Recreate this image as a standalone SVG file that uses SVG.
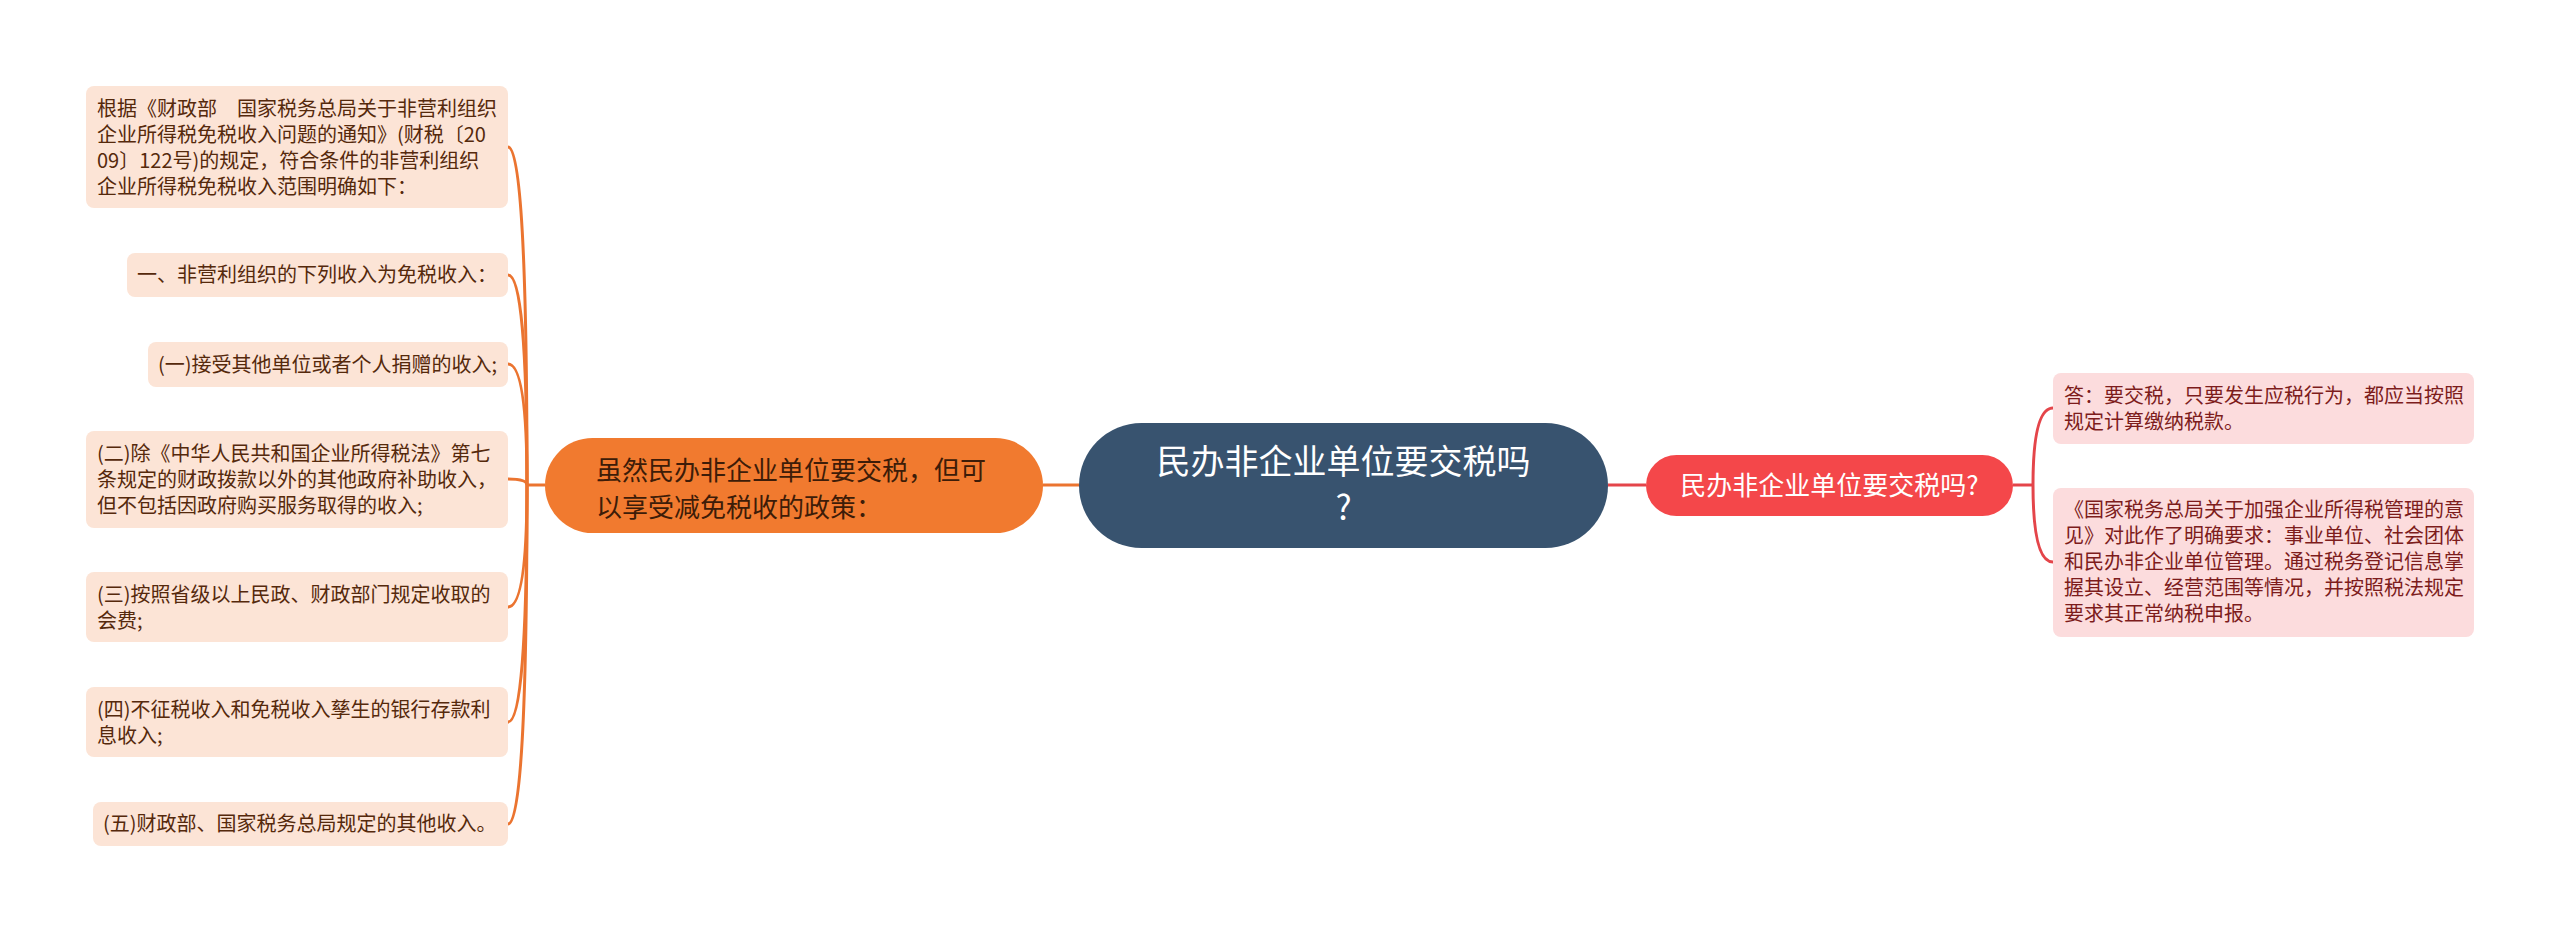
<svg xmlns="http://www.w3.org/2000/svg" width="2560" height="933" viewBox="0 0 2560 933">
<style>
text{font-family:"Noto Sans CJK SC","Noto Sans",sans-serif;}
.lb{fill:#FCE4D6;}
.lt{font-size:20px;fill:#55290C;}
.rb{fill:#FCDCDD;}
.rt{font-size:20px;fill:#7D1C1C;}
.oc{fill:none;stroke:#EB7430;stroke-width:3;}
.rc{fill:none;stroke:#E4454A;stroke-width:3;}
</style>
<rect width="2560" height="933" fill="#FFFFFF"/>
<g id="connectors">
<path class="oc" d="M1043 485 H1079"/>
<path class="oc" d="M545 485 H527"/>
<path class="oc" d="M527 485 Q527 147 508 147"/>
<path class="oc" d="M527 485 Q527 275 508 275"/>
<path class="oc" d="M527 485 Q527 364 508 364"/>
<path class="oc" d="M527 485 Q527 479 508 479"/>
<path class="oc" d="M527 485 Q527 607 508 607"/>
<path class="oc" d="M527 485 Q527 722 508 722"/>
<path class="oc" d="M527 485 Q527 824 508 824"/>
<path class="rc" d="M1608 485 H1646"/>
<path class="rc" d="M2013 485 H2033"/>
<path class="rc" d="M2033 485 Q2033 408 2053 408"/>
<path class="rc" d="M2033 485 Q2033 562 2053 562"/>
</g>
<g id="root">
<rect x="1079" y="423" width="529" height="125" rx="62.5" fill="#38536F"/>
<text x="1343.5" y="474" text-anchor="middle" font-size="34" fill="#FFFFFF">民办非企业单位要交税吗</text>
<text x="1343.5" y="520" text-anchor="middle" font-size="34" fill="#FFFFFF">?</text>
</g>
<g id="n-left">
<rect x="545" y="438" width="498" height="95" rx="47.5" fill="#F17A2F"/>
<text x="596" y="479.5" font-size="26" fill="#3D1C08">虽然民办非企业单位要交税，但可</text>
<text x="596" y="516.5" font-size="26" fill="#3D1C08">以享受减免税收的政策：</text>
</g>
<g id="n-right">
<rect x="1646" y="455" width="367" height="61" rx="30.5" fill="#F4474A"/>
<text x="1829.5" y="495" text-anchor="middle" font-size="26" fill="#FFFFFF">民办非企业单位要交税吗?</text>
</g>
<g id="l1">
<rect class="lb" x="86" y="86" width="422" height="122" rx="8"/>
<text class="lt" x="97" y="115.5">根据《财政部　国家税务总局关于非营利组织</text>
<text class="lt" x="97" y="141.5">企业所得税免税收入问题的通知》(财税〔20</text>
<text class="lt" x="97" y="167.5">09〕122号)的规定，符合条件的非营利组织</text>
<text class="lt" x="97" y="193.5">企业所得税免税收入范围明确如下：</text>
</g>
<g id="l2">
<rect class="lb" x="127" y="253" width="381" height="44" rx="8"/>
<text class="lt" x="137" y="282">一、非营利组织的下列收入为免税收入：</text>
</g>
<g id="l3">
<rect class="lb" x="148" y="342" width="360" height="45" rx="8"/>
<text class="lt" x="158" y="371.5">(一)接受其他单位或者个人捐赠的收入;</text>
</g>
<g id="l4">
<rect class="lb" x="86" y="431" width="422" height="97" rx="8"/>
<text class="lt" x="97" y="460.5">(二)除《中华人民共和国企业所得税法》第七</text>
<text class="lt" x="97" y="486.5">条规定的财政拨款以外的其他政府补助收入，</text>
<text class="lt" x="97" y="512.5">但不包括因政府购买服务取得的收入;</text>
</g>
<g id="l5">
<rect class="lb" x="86" y="572" width="422" height="70" rx="8"/>
<text class="lt" x="97" y="601.5">(三)按照省级以上民政、财政部门规定收取的</text>
<text class="lt" x="97" y="627.5">会费;</text>
</g>
<g id="l6">
<rect class="lb" x="86" y="687" width="422" height="70" rx="8"/>
<text class="lt" x="97" y="716.5">(四)不征税收入和免税收入孳生的银行存款利</text>
<text class="lt" x="97" y="742.5">息收入;</text>
</g>
<g id="l7">
<rect class="lb" x="93" y="802" width="415" height="44" rx="8"/>
<text class="lt" x="103" y="831">(五)财政部、国家税务总局规定的其他收入。</text>
</g>
<g id="r1">
<rect class="rb" x="2053" y="373" width="421" height="71" rx="8"/>
<text class="rt" x="2064" y="402.5">答：要交税，只要发生应税行为，都应当按照</text>
<text class="rt" x="2064" y="428.5">规定计算缴纳税款。</text>
</g>
<g id="r2">
<rect class="rb" x="2053" y="488" width="421" height="149" rx="8"/>
<text class="rt" x="2064" y="517">《国家税务总局关于加强企业所得税管理的意</text>
<text class="rt" x="2064" y="543">见》对此作了明确要求：事业单位、社会团体</text>
<text class="rt" x="2064" y="569">和民办非企业单位管理。通过税务登记信息掌</text>
<text class="rt" x="2064" y="595">握其设立、经营范围等情况，并按照税法规定</text>
<text class="rt" x="2064" y="621">要求其正常纳税申报。</text>
</g>
</svg>
